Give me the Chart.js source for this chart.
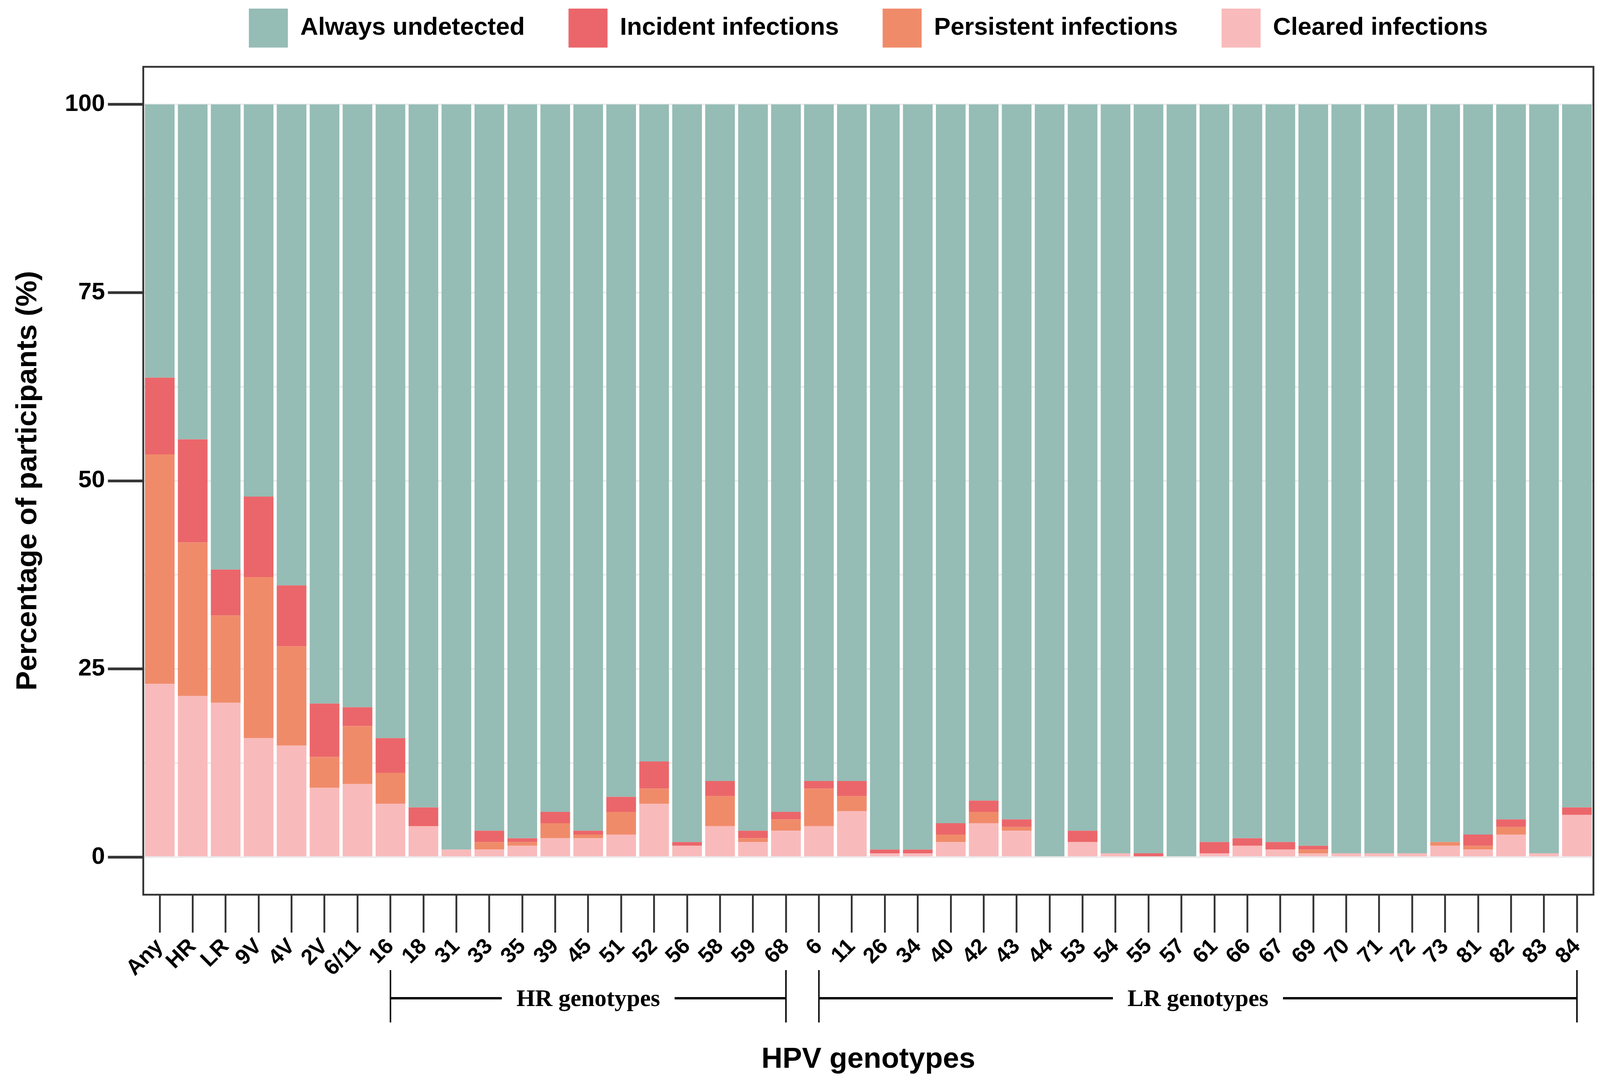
<!DOCTYPE html>
<html>
<head>
<meta charset="utf-8">
<title>HPV genotypes</title>
<script src="https://cdn.jsdelivr.net/npm/chart.js@4.4.1/dist/chart.umd.min.js"></script>
<style>
  html, body { margin: 0; padding: 0; background: #ffffff; overflow: hidden; }
  #wrap { width: 100vw; height: 100vh; }
</style>
</head>
<body>
<div id="wrap"><canvas id="hpvChart"></canvas></div>
<script>
// categories, left to right
const genotypes = ['Any', 'HR', 'LR', '9V', '4V', '2V', '6/11',
    '16', '18', '31', '33', '35', '39', '45', '51', '52', '56', '58', '59', '68',
    '6', '11', '26', '34', '40', '42', '43', '44', '53', '54', '55', '57', '61', '66',
    '67', '69', '70', '71', '72', '73', '81', '82', '83', '84'];

// percentages (stack bottom -> top)
const cleared = [23.0, 21.4, 20.5, 15.8, 14.8, 9.2, 9.7,
    7.1, 4.1, 1.0, 1.0, 1.5, 2.5, 2.5, 3.0, 7.1, 1.5, 4.1, 2.0, 3.5,
    4.1, 6.1, 0.5, 0.5, 2.0, 4.5, 3.5, 0, 2.0, 0.5, 0, 0, 0.5, 1.5,
    1.0, 0.5, 0.5, 0.5, 0.5, 1.5, 1.0, 3.0, 0.5, 5.6];
const persistent = [30.5, 20.4, 11.6, 21.4, 13.2, 4.1, 7.7,
    4.1, 0, 0, 1.0, 0.5, 2.0, 0.5, 3.0, 2.0, 0, 4.0, 0.5, 1.5,
    5.0, 2.0, 0, 0, 1.0, 1.5, 0.5, 0, 0, 0, 0, 0, 0, 0,
    0, 0.5, 0, 0, 0, 0.5, 0.5, 1.0, 0, 0];
const incident = [10.2, 13.7, 6.1, 10.7, 8.1, 7.1, 2.5,
    4.6, 2.5, 0, 1.5, 0.5, 1.5, 0.5, 2.0, 3.6, 0.5, 2.0, 1.0, 1.0,
    1.0, 2.0, 0.5, 0.5, 1.5, 1.5, 1.0, 0, 1.5, 0, 0.5, 0, 1.5, 1.0,
    1.0, 0.5, 0, 0, 0, 0, 1.5, 1.0, 0, 1.0];
const undetected = [36.3, 44.5, 61.8, 52.1, 63.9, 79.6, 80.1,
    84.2, 93.4, 99.0, 96.5, 97.5, 94.0, 96.5, 92.0, 87.3, 98.0, 89.9, 96.5, 94.0,
    89.9, 89.9, 99.0, 99.0, 95.5, 92.5, 95.0, 100, 96.5, 99.5, 99.5, 100, 98.0, 97.5,
    98.0, 98.5, 99.5, 99.5, 99.5, 98.0, 97.0, 95.0, 99.5, 93.4];

const yTickValues = [0, 12.5, 25, 37.5, 50, 62.5, 75, 87.5, 100];

const genotypeGroups = [
    { label: 'HR genotypes', from: '16', to: '68' },
    { label: 'LR genotypes', from: '6', to: '84' }
];

const sans = '"Liberation Sans", Arial, sans-serif';

// layout numbers are written for a 4389 x 2795 page and scaled to the real window
const kx = window.innerWidth / 4389;
const ky = window.innerHeight / 2795;
const fx = v => v * kx;
const fy = v => v * ky;

// ggplot-like panel border drawn over the bars
const panelBorder = {
    id: 'panelBorder',
    afterDatasetsDraw(chart) {
        const { ctx, chartArea } = chart;
        ctx.save();
        ctx.strokeStyle = '#333333';
        ctx.lineWidth = fx(5);
        ctx.strokeRect(chartArea.left, chartArea.top,
            chartArea.right - chartArea.left, chartArea.bottom - chartArea.top);
        ctx.restore();
    }
};

// brackets under the tick labels
const groupBrackets = {
    id: 'groupBrackets',
    afterDraw(chart) {
        const { ctx, chartArea } = chart;
        const xScale = chart.scales.x;
        const y = chartArea.bottom + fy(265);
        ctx.save();
        ctx.font = 'bold ' + fx(66) + 'px "Liberation Serif", "Times New Roman", serif';
        ctx.textAlign = 'center';
        ctx.textBaseline = 'middle';
        ctx.fillStyle = '#000000';
        ctx.strokeStyle = '#000000';
        genotypeGroups.forEach(g => {
            const x1 = xScale.getPixelForValue(genotypes.indexOf(g.from));
            const x2 = xScale.getPixelForValue(genotypes.indexOf(g.to));
            const mid = (x1 + x2) / 2;
            const half = ctx.measureText(g.label).width / 2 + fx(40);

            ctx.lineWidth = fx(4);
            ctx.beginPath();
            ctx.moveTo(x1, y - fy(72)); ctx.lineTo(x1, y + fy(62));
            ctx.moveTo(x2, y - fy(72)); ctx.lineTo(x2, y + fy(62));
            ctx.stroke();

            ctx.lineWidth = fy(6);
            ctx.beginPath();
            ctx.moveTo(x1, y); ctx.lineTo(mid - half, y);
            ctx.moveTo(mid + half, y); ctx.lineTo(x2, y);
            ctx.stroke();

            ctx.fillText(g.label, mid, y + fy(4));
        });
        ctx.restore();
    }
};

const data = {
    labels: genotypes,
    datasets: [
        { label: 'Cleared infections', data: cleared, backgroundColor: '#F9BABB', xAxisID: 'x', yAxisID: 'y' },
        { label: 'Persistent infections', data: persistent, backgroundColor: '#F08B6A', xAxisID: 'x', yAxisID: 'y' },
        { label: 'Incident infections', data: incident, backgroundColor: '#EB666A', xAxisID: 'x', yAxisID: 'y' },
        { label: 'Always undetected', data: undetected, backgroundColor: '#95BCB5', xAxisID: 'x', yAxisID: 'y' }
    ]
};

const legendPad = fx(120);
const legendBox = fx(107);

const config = {
    type: 'bar',
    data: data,
    plugins: [panelBorder, groupBrackets],
    options: {
        responsive: true,
        maintainAspectRatio: false,
        animation: false,
        datasets: {
            bar: { categoryPercentage: 0.9, barPercentage: 1, borderWidth: 0 }
        },
        layout: {
            padding: { top: fy(22) - legendPad, left: 0, right: fx(18), bottom: 0 }
        },
        plugins: {
            tooltip: { enabled: false },
            legend: {
                position: 'top',
                fullSize: false,
                reverse: true,
                labels: {
                    boxWidth: legendBox,
                    boxHeight: legendBox,
                    padding: legendPad,
                    color: '#000000',
                    font: { family: sans, size: fx(68), weight: 'bold' }
                }
            }
        },
        scales: {
            x: {
                stacked: true,
                afterFit: scale => { scale.height = fy(505); },
                grid: {
                    display: true,
                    drawOnChartArea: false,
                    drawTicks: true,
                    offset: false,
                    tickLength: fy(97),
                    color: '#333333',
                    lineWidth: fx(5)
                },
                border: { display: false },
                ticks: {
                    autoSkip: false,
                    maxRotation: 45,
                    minRotation: 45,
                    padding: fy(3),
                    color: '#000000',
                    font: { family: sans, size: fx(60), weight: 'bold' }
                },
                title: {
                    display: true,
                    text: 'HPV genotypes',
                    color: '#000000',
                    font: { family: sans, size: fx(80), weight: 'bold' },
                    padding: { top: 0, bottom: fy(83) - fx(48) }
                }
            },
            y: {
                stacked: true,
                min: -5,
                max: 105,
                afterFit: scale => { scale.width = fx(393); },
                afterBuildTicks: axis => {
                    axis.ticks = yTickValues.map(v => ({ value: v }));
                },
                grid: {
                    color: '#EBEBEB',
                    lineWidth: fy(4),
                    drawTicks: true,
                    tickLength: fx(97),
                    tickWidth: fy(7),
                    tickColor: ctx => (ctx.tick && ctx.tick.value % 25 === 0 ? '#333333' : 'rgba(0,0,0,0)')
                },
                border: { display: false },
                ticks: {
                    padding: fx(8),
                    color: '#000000',
                    font: { family: sans, size: fx(66), weight: 'bold' },
                    callback: value => (value % 25 === 0 ? value : '')
                },
                title: {
                    display: true,
                    text: 'Percentage of participants (%)',
                    color: '#000000',
                    font: { family: sans, size: fx(80), weight: 'bold' },
                    padding: { top: fx(30), bottom: 0 }
                }
            },
            // empty top band between legend and panel
            spacer: {
                type: 'category',
                position: 'top',
                grid: { display: false },
                border: { display: false },
                ticks: { display: false },
                afterFit: scale => {
                    scale.height = Math.max(0, fy(171) - fy(22) - legendBox - 10);
                }
            }
        }
    }
};

new Chart(document.getElementById('hpvChart'), config);
</script>
</body>
</html>
